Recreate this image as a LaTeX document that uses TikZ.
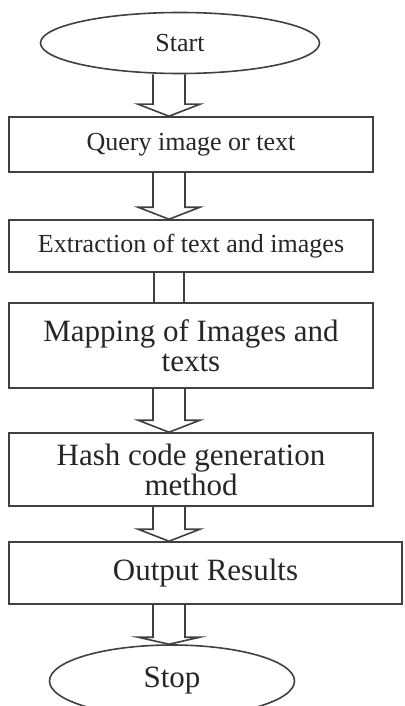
\documentclass[tikz,border=0pt]{standalone}
\usepackage{fontspec}
\setmainfont{Liberation Serif}
\usetikzlibrary{
		calc,
		positioning,
		shapes.geometric
	}
\tikzset{
		>=stealth,
		chart/.style={draw=black!75, line width=1.6pt, text=black!85, inner sep=0pt},
		stepbox/.style={chart, rectangle, minimum width=364pt, align=center},
		terminal/.style={chart, ellipse},
		small/.style={font=\fontsize{26}{30}\selectfont},
		large/.style={font=\fontsize{31}{30}\selectfont},
		link/.style={draw=black!75, line width=1.6pt},
		hollow/.style={to path={
			($(\tikztostart)+(-16,0)$) |- ($(\tikztotarget)+(-31,-#1)$) -- (\tikztotarget)
			-- ($(\tikztotarget)+(31,-#1)$) -| ($(\tikztostart)+(16,0)$)}},
		hollow/.default=12
	}

\begin{document}
\begin{tikzpicture}[x=1pt, y=-1pt] % (one unit = one pixel of the page, y grows downwards)
		\useasboundingbox (0,0) rectangle (404,706);
		\node[terminal, small, minimum width=279pt, minimum height=61pt] (start) at (180,43) {Start};
		\node[stepbox, small, minimum height=55pt] (query) at (191,144.5) {Query image or text};
		\node[stepbox, small, minimum height=52pt] (extract) at (191,246) {Extraction of text and images};
		\node[stepbox, large, minimum height=85pt] (mapping) at (191,345.5) {Mapping of Images and\\texts};
		\node[stepbox, large, minimum height=73pt] (hash) at (191,469.5) {Hash code generation\\method};
		\node[stepbox, large, minimum width=393pt, minimum height=62pt] (output) at (205.5,573) {Output Results};
		\node[terminal, large, minimum width=245pt, minimum height=72pt] (stop) at (172,681) {Stop};
		\coordinate (col) at (169,0);
		\foreach \a/\b in {start/query,query/extract,mapping/hash,hash/output}{
			\draw[link] (\a.south -| col) to[hollow] (\b.north -| col);
		}
		% no head between these two
		\foreach \s in {-15,15}{
			\draw[link] ($(extract.south -| col)+(\s,0)$) -- ($(mapping.north -| col)+(\s,0)$);
		}
		\draw[link] (output.south -| col) to[hollow=7] (stop.north -| col);
	\end{tikzpicture}
\end{document}
